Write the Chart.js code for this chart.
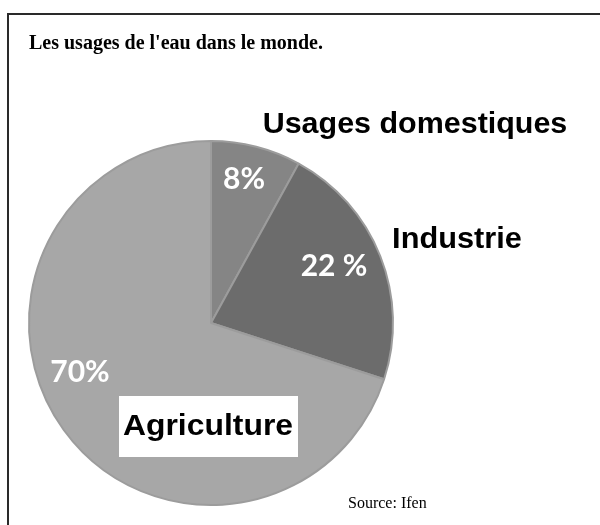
<!DOCTYPE html>
<html>
<head>
<meta charset="utf-8">
<script src="https://cdn.jsdelivr.net/npm/chart.js@4.4.0/dist/chart.umd.min.js"></script>
<style>
  html, body { margin: 0; padding: 0; background: #ffffff; }
  #wrap { position: relative; width: 600px; height: 525px; }
</style>
</head>
<body>
<div id="wrap"><canvas id="waterChart" width="600" height="525"></canvas></div>
<script>
// Data
const categories = ["Usages domestiques", "Industrie", "Agriculture"];
const shares = [8, 22, 70];
const shareLabels = ["8%", "22 %", "70%"];
const sliceColors = ["#858585", "#6c6c6c", "#a7a7a7"];

// Where each label sits, in canvas pixels
const percentPos = [[244, 179], [334, 266], [80, 372]];
const namePos = [[415, 125], [457, 240], [208, 427]];
const nameStretch = [1.05, 1.06, 1.1];

const labelsPlugin = {
  id: "labels",
  beforeDraw(chart) {
    const ctx = chart.ctx;
    ctx.save();
    ctx.fillStyle = "#ffffff";
    ctx.fillRect(0, 0, chart.width, chart.height);
    // frame
    ctx.strokeStyle = "#2a2a2a";
    ctx.lineWidth = 2;
    ctx.strokeRect(8, 14, 620, 560);
    ctx.restore();
  },
  afterDraw(chart) {
    const ctx = chart.ctx;
    ctx.save();

    // title
    ctx.fillStyle = "#000000";
    ctx.textAlign = "left";
    ctx.textBaseline = "alphabetic";
    ctx.font = "bold 20px 'Liberation Serif', serif";
    ctx.fillText("Les usages de l'eau dans le monde.", 29, 49);

    // source
    ctx.font = "16px 'Liberation Serif', serif";
    ctx.fillText("Source: Ifen", 348, 508);

    // white box behind Agriculture
    ctx.fillStyle = "#ffffff";
    ctx.fillRect(119, 396, 179, 61);

    // category names
    ctx.textAlign = "center";
    ctx.textBaseline = "middle";
    ctx.fillStyle = "#000000";
    ctx.font = "bold 29px 'Liberation Sans', Arial, sans-serif";
    categories.forEach((name, i) => {
      ctx.save();
      ctx.translate(namePos[i][0], namePos[i][1]);
      ctx.scale(nameStretch[i], 1);
      ctx.fillText(name, 0, 0);
      ctx.restore();
    });

    // percentages
    ctx.fillStyle = "#ffffff";
    ctx.font = "bold 30px Lato, 'Open Sans', sans-serif";
    shareLabels.forEach((txt, i) => {
      ctx.fillText(txt, percentPos[i][0], percentPos[i][1]);
    });
    ctx.restore();
  }
};

const ctx1 = document.getElementById("waterChart").getContext("2d");
new Chart(ctx1, {
  type: "pie",
  data: {
    labels: categories,
    datasets: [
      {
        data: shares,
        backgroundColor: sliceColors,
        borderColor: "#9c9c9c",
        borderWidth: 2,
      },
    ],
  },
  options: {
    responsive: false,
    animation: false,
    layout: {
      padding: { left: 28, right: 206, top: 140, bottom: 19 },
    },
    plugins: {
      legend: { display: false },
      tooltip: { enabled: false },
    },
  },
  plugins: [labelsPlugin],
});
</script>
</body>
</html>
